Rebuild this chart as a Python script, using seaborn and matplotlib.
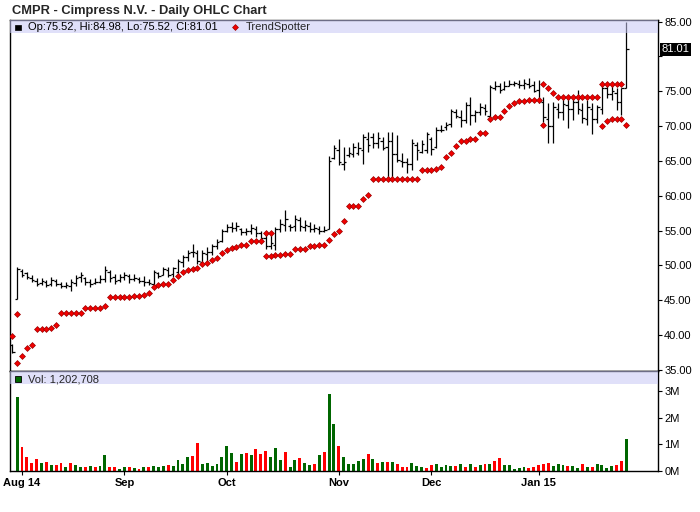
import numpy as np
import pandas as pd
import matplotlib
matplotlib.use("Agg")
import matplotlib.pyplot as plt
import seaborn as sns
from matplotlib.patches import Rectangle

# ---------------- data ----------------
title = "CMPR - Cimpress N.V. - Daily OHLC Chart"

high = [38.8, 49.8, 49.5, 49.0, 48.6, 48.2, 48.2, 47.9, 48.4, 48.0,
        47.6, 47.6, 48.0, 48.6, 49.1, 48.4, 48.1, 48.2, 48.6, 49.9,
        49.3, 48.8, 48.8, 49.0, 48.8, 48.8, 48.3, 48.5, 48.1, 49.4,
        49.1, 49.8, 49.8, 49.8, 50.9, 51.5, 52.2, 53.1, 52.2, 52.2,
        52.6, 53.1, 53.8, 55.3, 56.0, 56.3, 56.2, 55.4, 55.4, 55.9,
        55.6, 55.0, 55.0, 54.3, 55.5, 56.6, 57.9, 56.0, 57.2, 56.95,
        56.5, 56.2, 55.9, 55.6, 55.6, 65.7, 67.3, 68.2, 67.0, 67.0,
        67.5, 67.7, 68.9, 69.2, 69.0, 69.2, 68.5, 69.2, 69.2, 68.7,
        66.1, 65.35, 68.2, 67.75, 68.0, 69.2, 68.5, 69.8, 70.15, 70.6,
        72.4, 72.4, 72.3, 73.5, 74.2, 72.3, 73.3, 73.2, 75.9, 76.5,
        76.2, 76.4, 76.6, 76.5, 76.6, 76.7, 76.9, 76.5, 76.6, 74.2,
        73.3, 73.5, 73.3, 74.0, 74.2, 74.5, 75.2, 73.3, 73.7, 73.3,
        73.0, 76.4, 75.9, 75.7, 75.4, 75.4, 84.98]

low = [37.4, 45.2, 48.3, 48.1, 47.6, 47.1, 47.2, 46.9, 47.1, 47.1,
       46.7, 46.7, 46.4, 47.1, 47.6, 47.2, 46.9, 47.4, 47.5, 47.6,
       47.6, 47.4, 47.6, 47.9, 47.5, 47.8, 47.5, 47.0, 47.2, 46.7,
       48.2, 48.6, 48.3, 48.3, 48.3, 49.8, 50.7, 51.2, 50.2, 50.2,
       50.5, 51.5, 52.4, 53.4, 54.8, 54.8, 55.0, 54.4, 54.4, 54.55,
       54.1, 53.6, 52.4, 52.4, 52.15, 54.8, 55.0, 55.0, 55.0, 55.0,
       55.0, 54.8, 54.8, 54.55, 54.8, 55.3, 65.3, 64.4, 63.7, 65.5,
       65.6, 65.8, 64.6, 66.3, 66.8, 66.8, 66.6, 62.2, 62.2, 64.9,
       64.15, 63.2, 63.7, 65.1, 66.1, 66.1, 65.8, 66.8, 69.2, 69.4,
       69.9, 71.1, 69.9, 70.4, 70.15, 70.6, 71.6, 71.6, 70.9, 75.2,
       74.7, 75.2, 75.7, 75.7, 75.4, 75.3, 75.4, 74.9, 73.3, 70.6,
       67.6, 67.5, 71.1, 70.9, 69.7, 70.9, 71.8, 70.4, 70.1, 68.9,
       70.4, 71.8, 74.0, 73.7, 72.3, 71.6, 75.52]

open_ = [38.6, 45.2, 49.2, 48.9, 48.2, 47.8, 47.5, 47.6, 47.3, 47.8,
         47.3, 47.0, 47.0, 47.5, 48.3, 48.2, 47.6, 47.5, 47.6, 48.0,
         49.0, 48.3, 47.9, 48.3, 48.5, 48.0, 48.1, 47.8, 47.6, 47.3,
         48.9, 48.7, 49.4, 48.8, 49.0, 50.5, 51.2, 51.9, 51.8, 50.5,
         51.6, 52.0, 52.8, 53.5, 55.0, 55.5, 55.4, 55.3, 54.8, 55.0,
         55.3, 54.6, 54.0, 52.8, 53.0, 55.2, 55.8, 55.6, 55.6, 56.5,
         55.5, 55.7, 55.3, 55.2, 55.0, 55.3, 65.4, 66.5, 64.6, 65.8,
         66.0, 66.2, 66.6, 68.2, 68.5, 67.5, 67.8, 67.0, 67.8, 66.0,
         65.0, 64.8, 64.5, 67.3, 66.3, 66.5, 68.2, 67.0, 69.5, 69.8,
         70.3, 72.0, 71.3, 70.8, 73.0, 71.6, 72.0, 72.6, 71.5, 75.5,
         75.8, 75.3, 75.8, 76.0, 76.1, 75.9, 76.0, 75.9, 75.2, 73.5,
         71.0, 70.0, 72.5, 72.0, 73.0, 72.5, 73.4, 72.3, 71.0, 72.5,
         71.0, 72.5, 75.5, 74.6, 74.8, 73.5, 75.52]

close = [37.6, 49.5, 48.6, 48.3, 47.9, 47.4, 47.8, 47.2, 47.9, 47.4,
         47.0, 47.2, 47.6, 48.2, 48.6, 47.6, 47.4, 47.6, 48.0, 49.3,
         48.2, 47.8, 48.4, 48.7, 48.0, 48.2, 47.7, 47.6, 47.5, 49.0,
         48.5, 49.5, 48.7, 49.6, 50.6, 51.2, 51.8, 52.0, 50.6, 51.8,
         52.0, 52.8, 53.4, 55.0, 55.5, 55.4, 55.6, 54.8, 55.0, 55.4,
         54.6, 54.0, 52.8, 53.2, 55.2, 55.9, 56.6, 55.5, 56.7, 55.6,
         55.8, 55.2, 55.4, 54.9, 55.1, 65.0, 66.8, 64.8, 64.8, 66.2,
         67.0, 66.8, 68.5, 67.3, 67.6, 68.3, 66.9, 67.8, 66.0, 65.2,
         64.9, 64.5, 67.5, 66.5, 67.4, 68.8, 66.7, 69.5, 69.5, 70.2,
         72.1, 71.5, 70.8, 73.0, 71.6, 72.0, 72.7, 72.2, 75.6, 75.8,
         75.2, 75.8, 76.0, 76.2, 75.9, 76.2, 75.8, 75.1, 73.6, 71.3,
         70.0, 72.8, 72.0, 73.2, 72.4, 73.5, 72.5, 71.2, 72.8, 71.0,
         72.7, 75.5, 74.6, 75.0, 73.4, 75.52, 81.01]

trend = [39.9, 43.0, 37.05, 38.15, 38.6, 40.9, 40.9, 40.9, 41.0, 41.5,
         43.2, 43.2, 43.2, 43.2, 43.2, 43.9, 43.9, 43.9, 43.9, 44.25,
         45.5, 45.5, 45.5, 45.5, 45.5, 45.6, 45.6, 45.8, 46.05, 46.95,
         47.25, 47.3, 47.35, 47.9, 48.55, 49.1, 49.4, 49.5, 49.7, 50.2,
         50.4, 50.8, 51.1, 51.85, 52.15, 52.55, 52.7, 52.9, 53.0, 53.45,
         53.45, 53.45, 54.7, 54.7, 51.45, 51.55, 51.65, 51.65, 52.3, 52.3,
         52.4, 52.75, 52.75, 52.95, 52.95, 53.6, 54.55, 54.9, 56.35, 58.5,
         58.5, 58.5, 59.5, 60.05, 62.4, 62.4, 62.4, 62.4, 62.4, 62.4,
         62.4, 62.4, 62.4, 62.4, 63.65, 63.65, 63.65, 63.8, 64.15, 65.5,
         66.2, 67.1, 67.9, 67.9, 68.2, 68.2, 68.95, 68.95, 70.95, 71.25,
         71.3, 72.2, 72.9, 73.3, 73.55, 73.55, 73.7, 73.7, 73.7, 76.1,
         75.4, 74.7, 74.2, 74.2, 74.2, 74.2, 74.2, 74.2, 74.2, 74.2,
         74.2, 76.1, 76.1, 76.1, 76.1, 76.1, 70.2]

# second TrendSpotter marker shown on some days
trend_alt = {1: 36.0, 52: 51.3, 53: 51.3, 109: 70.2,
             121: 70.0, 122: 70.7, 123: 71.0, 124: 71.0, 125: 71.0}

volume_m = [0.0, 2.79, 0.91, 0.54, 0.31, 0.45, 0.31, 0.35, 0.24, 0.24,
            0.30, 0.16, 0.30, 0.24, 0.16, 0.16, 0.20, 0.16, 0.20, 0.61,
            0.16, 0.16, 0.09, 0.16, 0.16, 0.13, 0.09, 0.16, 0.16, 0.20,
            0.16, 0.20, 0.24, 0.20, 0.43, 0.28, 0.54, 0.58, 1.06, 0.28,
            0.31, 0.20, 0.28, 0.54, 0.95, 0.68, 0.35, 0.65, 0.69, 0.61,
            0.84, 0.65, 0.76, 0.54, 0.88, 0.43, 0.73, 0.16, 0.43, 0.50,
            0.31, 0.24, 0.28, 0.61, 0.73, 2.90, 1.78, 0.95, 0.51, 0.28,
            0.28, 0.38, 0.45, 0.64, 0.45, 0.31, 0.35, 0.35, 0.35, 0.28,
            0.16, 0.16, 0.31, 0.20, 0.16, 0.13, 0.24, 0.28, 0.16, 0.24,
            0.20, 0.20, 0.28, 0.16, 0.28, 0.16, 0.24, 0.28, 0.28, 0.39,
            0.49, 0.24, 0.24, 0.09, 0.13, 0.16, 0.13, 0.16, 0.24, 0.28,
            0.31, 0.20, 0.28, 0.24, 0.20, 0.20, 0.13, 0.28, 0.16, 0.16,
            0.28, 0.24, 0.13, 0.20, 0.24, 0.39, 1.202708]

# 1 = up day (green volume), 0 = down day (red volume)
vol_up = [1, 1, 0, 0, 0, 0, 1, 0, 1, 0,
          0, 1, 0, 1, 1, 0, 1, 0, 1, 1,
          0, 0, 1, 1, 0, 1, 0, 1, 0, 1,
          1, 1, 0, 1, 1, 1, 1, 0, 0, 1,
          1, 1, 1, 1, 1, 1, 0, 1, 0, 1,
          0, 0, 0, 1, 1, 1, 0, 1, 1, 0,
          1, 1, 0, 1, 0, 1, 1, 0, 1, 1,
          1, 1, 1, 0, 1, 0, 1, 0, 1, 0,
          0, 0, 1, 1, 1, 0, 0, 1, 1, 1,
          1, 0, 1, 0, 1, 0, 1, 0, 1, 0,
          0, 1, 1, 1, 1, 1, 0, 0, 0, 0,
          0, 1, 1, 1, 0, 1, 1, 0, 1, 0,
          1, 1, 1, 1, 0, 0, 1]

month_pos = [2, 23, 44, 67, 86, 108]
month_labels = ["Aug 14", "Sep", "Oct", "Nov", "Dec", "Jan 15"]
price_ticks = [35, 40, 45, 50, 55, 60, 65, 70, 75, 80, 85]
vol_ticks = [0, 1, 2, 3]

# ---------------- styling ----------------
sns.set_style("white")
plt.rcParams["font.family"] = ["Liberation Sans", "DejaVu Sans"]

W, H = 700, 512
fig = plt.figure(figsize=(W / 100, H / 100), dpi=100)

def fx(px):
    return px / W

def fy(py):
    return 1 - py / H

left, right = 10, 658
p_top, p_bot = 19.5, 370.5
v_top, v_bot = 370.5, 471

ax = fig.add_axes([fx(left), fy(p_bot), fx(right) - fx(left), fy(p_top) - fy(p_bot)])
axv = fig.add_axes([fx(left), fy(v_bot), fx(right) - fx(left), fy(v_top) - fy(v_bot)])

n = len(high)
idx = np.arange(n)
xlim = (-0.47, 132.5)

# ---------------- price panel ----------------
ax.vlines(idx, low, high, color="black", lw=0.9, zorder=2)
ax.hlines(open_, idx - 0.5, idx, color="black", lw=0.9, zorder=2)
ax.hlines(close, idx, idx + 0.5, color="black", lw=0.9, zorder=2)

tdf = pd.DataFrame({"i": list(idx) + list(trend_alt.keys()),
                    "v": list(trend) + list(trend_alt.values())})
sns.scatterplot(data=tdf, x="i", y="v", marker="D", s=9, color="#f20000",
                edgecolor="#9a0000", linewidth=0.5, ax=ax, legend=False, zorder=3)

ax.set_xlim(*xlim)
ax.set_ylim(34.93, 85.29)
ax.set_xlabel("")
ax.set_ylabel("")
ax.set_xticks([])
ax.yaxis.tick_right()
ax.set_yticks(price_ticks)
ax.set_yticklabels(["" if v == 80 else f"{v:.2f}" for v in price_ticks])
ax.tick_params(axis="y", direction="out", length=3, width=0.8, pad=1.5,
               labelsize=8, colors="black", right=True, left=False)

# legend band
ax.add_patch(Rectangle((0, 1 - 13 / 351), 1, 13 / 351, transform=ax.transAxes,
                       facecolor="#c8c8f5", alpha=0.55, edgecolor="none", zorder=5))
fig.patches.append(Rectangle((fx(15), fy(30)), fx(5.5), fy(24.5) - fy(30),
                             transform=fig.transFigure, facecolor="black",
                             edgecolor="black", lw=0.5, figure=fig))
fig.text(fx(27.5), fy(30.5),
         f"Op:{open_[-1]:.2f}, Hi:{high[-1]:.2f}, Lo:{low[-1]:.2f}, Cl:{close[-1]:.2f}",
         fontsize=8, va="baseline", ha="left", color="black", zorder=6)
fig.lines.append(plt.Line2D([fx(235)], [fy(26.8)], marker="D", markersize=3.0,
                            color="#f20000", markeredgecolor="#9a0000",
                            markeredgewidth=0.5, transform=fig.transFigure))
fig.text(fx(246), fy(30.5), "TrendSpotter", fontsize=8, va="baseline", ha="left")

# last close label
ax.annotate(f"{close[-1]:.2f}", xy=(1, close[-1]), xycoords=("axes fraction", "data"),
            xytext=(2.6, 0), textcoords="offset points", va="center", ha="left",
            fontsize=8, color="white", annotation_clip=False,
            bbox=dict(boxstyle="square,pad=0.12", fc="black", ec="none"))

# title
fig.text(fx(12), fy(14), title, fontsize=9.3, fontweight="bold", va="baseline", ha="left")

# ---------------- volume panel ----------------
vdf = pd.DataFrame({"i": idx, "vol": volume_m,
                    "dir": ["up" if u else "down" for u in vol_up]})
sns.barplot(data=vdf, x="i", y="vol", hue="dir", native_scale=True, dodge=False,
            palette={"up": "#006600", "down": "#ff0000"}, width=0.6,
            errorbar=None, saturation=1, legend=False, linewidth=0, ax=axv)

axv.set_xlim(*xlim)
axv.set_ylim(0, 3.77)
axv.set_xlabel("")
axv.set_ylabel("")
axv.yaxis.tick_right()
axv.set_yticks(vol_ticks)
axv.set_yticklabels([f"{v}M" for v in vol_ticks])
axv.tick_params(axis="y", direction="out", length=3, width=0.8, pad=1.5,
                labelsize=8, colors="black", right=True, left=False)
axv.set_xticks(month_pos)
axv.set_xticklabels(month_labels, fontweight="bold", fontsize=8)
axv.tick_params(axis="x", direction="out", length=3, width=0.8, pad=2,
                colors="black", bottom=True)

axv.add_patch(Rectangle((0, 1 - 13 / 100.5), 1, 13 / 100.5, transform=axv.transAxes,
                        facecolor="#c8c8f5", alpha=0.55, edgecolor="none", zorder=5))
fig.patches.append(Rectangle((fx(15.5), fy(381.5)), fx(5.5), fy(376) - fy(381.5),
                             transform=fig.transFigure, facecolor="#006600",
                             edgecolor="black", lw=0.6, figure=fig))
fig.text(fx(27.5), fy(382), f"Vol: {round(volume_m[-1] * 1e6):,}", fontsize=8,
         va="baseline", ha="left")

for a in (ax, axv):
    for s in a.spines.values():
        s.set_visible(True)
        s.set_color("black")
        s.set_linewidth(1.0)
    a.set_facecolor("white")

fig.savefig("out.png", dpi=100, facecolor="white")
